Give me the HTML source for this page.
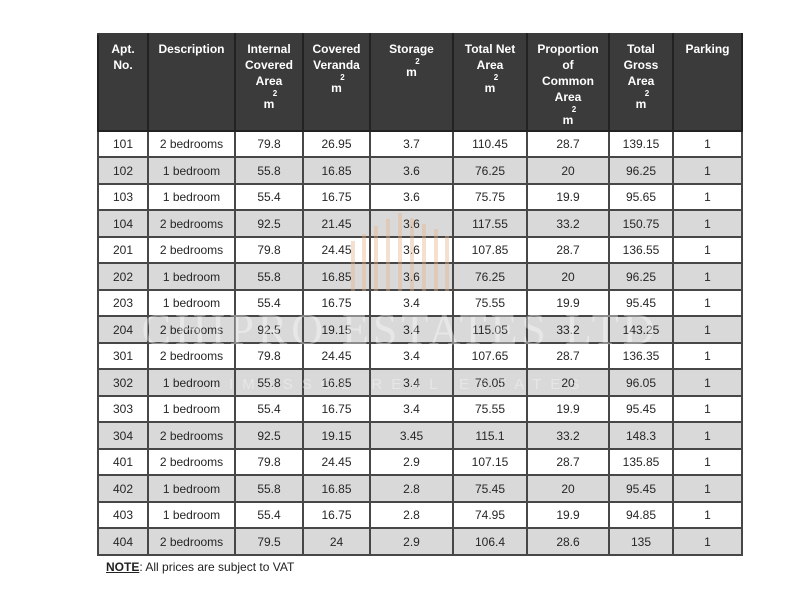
<!DOCTYPE html>
<html><head><meta charset="utf-8">
<style>
html,body{margin:0;padding:0;background:#fff;width:800px;height:600px;overflow:hidden;position:relative;font-family:"Liberation Sans",Arial,sans-serif;}
table{position:absolute;left:97px;top:33px;width:644px;border-collapse:collapse;table-layout:fixed;}
td,th{border:2px solid #474747;text-align:center;padding:0;color:#262626;font-size:12px;}
th{background:#3b3b3b;color:#fff;font-weight:bold;vertical-align:top;padding-top:6px;line-height:16px;height:89px;border-color:#222;border-top-color:#3b3b3b}
th .s{font-size:8px;line-height:9px;position:relative;left:6px;}
th .m{line-height:12px;}
tr.a td{height:24px;background:#fff}
tr.b td{height:25px;background:#d9d9d9}
.wm{position:absolute;pointer-events:none}
.note{position:absolute;left:106px;top:560px;font-size:12px;color:#222}
.note b{text-decoration:underline}
</style></head><body>
<table>
<colgroup><col style="width:50px"><col style="width:87px"><col style="width:68px"><col style="width:67px"><col style="width:83px"><col style="width:74px"><col style="width:82px"><col style="width:64px"><col style="width:69px"></colgroup>
<tr>
<th>Apt.<br>No.</th>
<th>Description</th>
<th>Internal<br>Covered<br>Area<div class="s">2</div><div class="m">m</div></th>
<th>Covered<br>Veranda<div class="s">2</div><div class="m">m</div></th>
<th>Storage<div class="s">2</div><div class="m">m</div></th>
<th>Total Net<br>Area<div class="s">2</div><div class="m">m</div></th>
<th>Proportion<br>of<br>Common<br>Area<div class="s">2</div><div class="m">m</div></th>
<th>Total<br>Gross<br>Area<div class="s">2</div><div class="m">m</div></th>
<th>Parking</th>
</tr>
<tr class="a"><td>101</td><td>2 bedrooms</td><td>79.8</td><td>26.95</td><td>3.7</td><td>110.45</td><td>28.7</td><td>139.15</td><td>1</td></tr>
<tr class="b"><td>102</td><td>1 bedroom</td><td>55.8</td><td>16.85</td><td>3.6</td><td>76.25</td><td>20</td><td>96.25</td><td>1</td></tr>
<tr class="a"><td>103</td><td>1 bedroom</td><td>55.4</td><td>16.75</td><td>3.6</td><td>75.75</td><td>19.9</td><td>95.65</td><td>1</td></tr>
<tr class="b"><td>104</td><td>2 bedrooms</td><td>92.5</td><td>21.45</td><td>3.6</td><td>117.55</td><td>33.2</td><td>150.75</td><td>1</td></tr>
<tr class="a"><td>201</td><td>2 bedrooms</td><td>79.8</td><td>24.45</td><td>3.6</td><td>107.85</td><td>28.7</td><td>136.55</td><td>1</td></tr>
<tr class="b"><td>202</td><td>1 bedroom</td><td>55.8</td><td>16.85</td><td>3.6</td><td>76.25</td><td>20</td><td>96.25</td><td>1</td></tr>
<tr class="a"><td>203</td><td>1 bedroom</td><td>55.4</td><td>16.75</td><td>3.4</td><td>75.55</td><td>19.9</td><td>95.45</td><td>1</td></tr>
<tr class="b"><td>204</td><td>2 bedrooms</td><td>92.5</td><td>19.15</td><td>3.4</td><td>115.05</td><td>33.2</td><td>143.25</td><td>1</td></tr>
<tr class="a"><td>301</td><td>2 bedrooms</td><td>79.8</td><td>24.45</td><td>3.4</td><td>107.65</td><td>28.7</td><td>136.35</td><td>1</td></tr>
<tr class="b"><td>302</td><td>1 bedroom</td><td>55.8</td><td>16.85</td><td>3.4</td><td>76.05</td><td>20</td><td>96.05</td><td>1</td></tr>
<tr class="a"><td>303</td><td>1 bedroom</td><td>55.4</td><td>16.75</td><td>3.4</td><td>75.55</td><td>19.9</td><td>95.45</td><td>1</td></tr>
<tr class="b"><td>304</td><td>2 bedrooms</td><td>92.5</td><td>19.15</td><td>3.45</td><td>115.1</td><td>33.2</td><td>148.3</td><td>1</td></tr>
<tr class="a"><td>401</td><td>2 bedrooms</td><td>79.8</td><td>24.45</td><td>2.9</td><td>107.15</td><td>28.7</td><td>135.85</td><td>1</td></tr>
<tr class="b"><td>402</td><td>1 bedroom</td><td>55.8</td><td>16.85</td><td>2.8</td><td>75.45</td><td>20</td><td>95.45</td><td>1</td></tr>
<tr class="a"><td>403</td><td>1 bedroom</td><td>55.4</td><td>16.75</td><td>2.8</td><td>74.95</td><td>19.9</td><td>94.85</td><td>1</td></tr>
<tr class="b"><td>404</td><td>2 bedrooms</td><td>79.5</td><td>24</td><td>2.9</td><td>106.4</td><td>28.6</td><td>135</td><td>1</td></tr>
</table>
<svg class="wm" style="left:0;top:0" width="800" height="600">
<g fill="#e8b48a" opacity="0.4">
<rect x="351" y="241" width="4" height="50"/>
<rect x="362" y="234" width="4" height="57"/>
<rect x="374" y="226" width="4" height="65"/>
<rect x="386" y="219" width="4" height="72"/>
<rect x="398" y="213" width="4" height="78"/>
<rect x="410" y="218" width="4" height="73"/>
<rect x="422" y="224" width="4" height="67"/>
<rect x="434" y="229" width="4" height="62"/>
<rect x="445" y="236" width="4" height="55"/>
</g>
<text x="400" y="344" text-anchor="middle" font-family="Liberation Serif,serif" font-size="44" fill="#fff" opacity="0.38" letter-spacing="4">CHIPRO ESTATES LTD</text>
<text x="400" y="389" text-anchor="middle" font-family="Liberation Sans,sans-serif" font-size="15" fill="#fff" opacity="0.35" letter-spacing="9">LIMASSOL REAL ESTATES</text>
</svg>
<div class="note"><b>NOTE</b>: All prices are subject to VAT</div>
</body></html>
